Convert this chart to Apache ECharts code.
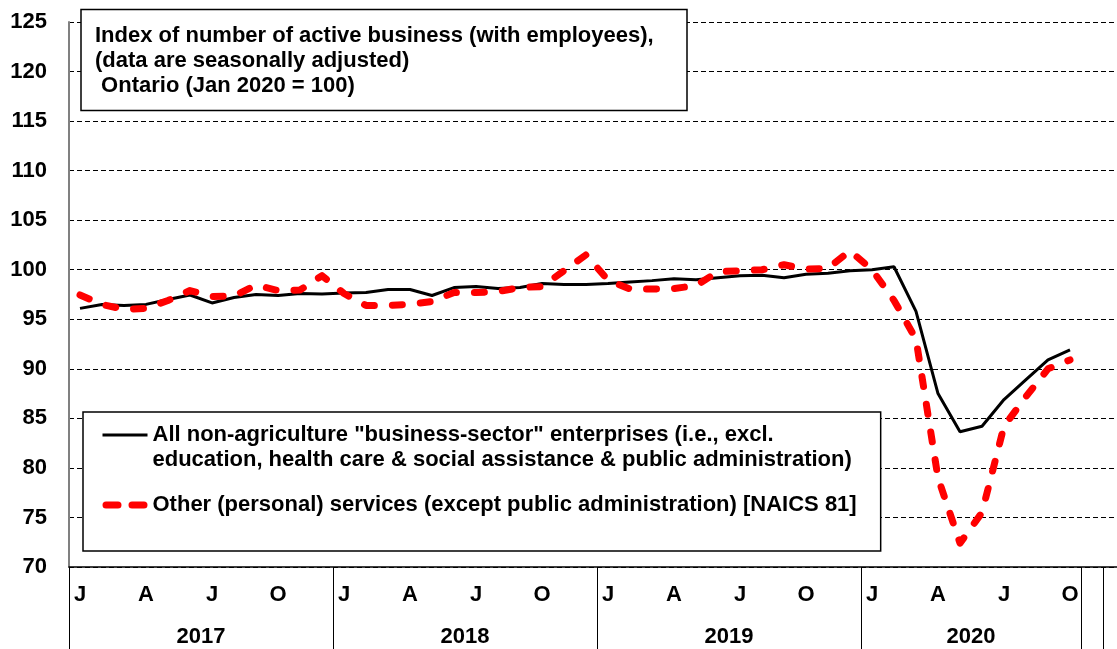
<!DOCTYPE html>
<html>
<head>
<meta charset="utf-8">
<script src="https://cdn.jsdelivr.net/npm/echarts@6/dist/echarts.min.js"></script>
<style>
  html, body { margin: 0; padding: 0; background: #fff; }
  #chart { width: 1117px; height: 649px; }
</style>
</head>
<body>
<div id="chart"></div>
<script>
var FONT = '"Liberation Sans", Arial, sans-serif';

var years = ['2017', '2018', '2019', '2020'];
var monthsPerYear = [12, 12, 12, 10];   // 2020 stops at October
var blankSlots = 2;                      // empty rows after the data, as in the sheet
var monthInitials = ['J', 'F', 'M', 'A', 'M', 'J', 'J', 'A', 'S', 'O', 'N', 'D'];

var allBusiness = [
    96.1, 96.5, 96.4, 96.5, 97.0, 97.45, 96.65, 97.2, 97.5, 97.4, 97.6, 97.55,
    97.65, 97.7, 98.0, 98.0, 97.4, 98.2, 98.3, 98.1, 98.2, 98.6, 98.5, 98.5,
    98.6, 98.75, 98.9, 99.1, 99.0, 99.2, 99.4, 99.45, 99.2, 99.55, 99.65, 99.9,
    100.0, 100.3, 95.8, 87.5, 83.65, 84.2, 86.9, 88.9, 90.9, 91.9
];
var otherServices = [
    97.45, 96.5, 96.0, 96.1, 96.9, 97.9, 97.3, 97.35, 98.45, 97.9, 97.95, 99.4,
    97.6, 96.4, 96.4, 96.5, 96.8, 97.7, 97.7, 97.8, 98.2, 98.3, 99.9, 101.5,
    98.95, 98.05, 98.05, 98.1, 98.4, 99.8, 99.9, 100.0, 100.5, 100.05, 100.15, 101.9,
    100.0, 96.9, 93.0, 79.0, 72.4, 75.5, 84.2, 87.2, 90.0, 90.9
];

var seriesNames = [
    'All non-agriculture "business-sector" enterprises (i.e., excl.\neducation, health care & social assistance & public administration)',
    'Other (personal) services (except public administration) [NAICS 81]'
];
var titleText = 'Index of number of active business (with employees),\n(data are seasonally adjusted)\n Ontario (Jan 2020 = 100)';

// month categories + where each year group starts
var categories = [];
var groupStarts = [];
var yearMarks = [];
years.forEach(function (y, k) {
    groupStarts.push(categories.length);
    yearMarks.push({ pos: categories.length * 2 + monthsPerYear[k], label: y });
    for (var m = 0; m < monthsPerYear[k]; m++) {
        categories.push(y + '-' + (m + 1));
    }
});
for (var b = 0; b < blankSlots; b++) {
    groupStarts.push(categories.length);
    categories.push('');
}
// half-step points along the axis, used only to centre the year labels
var yearAxisData = [];
for (var p = 0; p <= categories.length * 2; p++) yearAxisData.push('');
yearMarks.forEach(function (d) { yearAxisData[d.pos] = d.label; });

function monthIndex(v) {
    return v ? parseInt(v.split('-')[1], 10) - 1 : -1;
}

var labelFont = { fontSize: 22, fontWeight: 'bold', color: '#000', fontFamily: FONT };
var blackLine = { color: '#000', width: 3 };
var redLine = { color: '#ff0000', width: 7, type: [10, 18], cap: 'round', join: 'round' };

var chart = echarts.init(document.getElementById('chart'), null, { renderer: 'canvas' });
chart.setOption({
    animation: false,
    title: {
        text: titleText,
        left: 81,
        top: 9,
        padding: [14.5, 14, 12.5, 14],
        backgroundColor: '#fff',
        borderColor: '#000',
        borderWidth: 1.5,
        textStyle: Object.assign({ lineHeight: 25, width: 578 }, labelFont)
    },
    legend: {
        orient: 'vertical',
        left: 83,
        top: 412,
        padding: [-14.5, 24, 33.5, 16],
        itemWidth: 45,
        itemHeight: 14,
        itemGap: 20,
        backgroundColor: '#fff',
        borderColor: '#000',
        borderWidth: 1.5,
        selectedMode: false,
        itemStyle: { opacity: 0 },
        formatter: function (name) {
            // blank first line keeps the key line level with the first text line
            return name.indexOf('\n') >= 0 ? '\n' + name : name;
        },
        textStyle: Object.assign({ lineHeight: 25 }, labelFont),
        data: [
            { name: seriesNames[0], lineStyle: { color: '#000', width: 3, type: 'solid' } },
            { name: seriesNames[1], lineStyle: { color: '#ff0000', width: 7, type: [12, 14], dashOffset: -3.5, cap: 'round' } }
        ]
    },
    grid: {
        left: 69,
        top: 22,
        width: 1056,
        height: 545,
        outerBoundsMode: 'none',
        containLabel: false
    },
    xAxis: [{
        type: 'category',
        data: categories,
        boundaryGap: true,
        axisLine: { lineStyle: { color: '#000', width: 1.5 } },
        axisTick: {
            show: true,
            length: 82,
            interval: function (i) { return groupStarts.indexOf(i) >= 0; },
            lineStyle: { color: '#000', width: 1 }
        },
        axisLabel: Object.assign({
            interval: function (i, v) { return monthIndex(v) >= 0 && monthIndex(v) % 3 === 0; },
            formatter: function (v) { return monthInitials[monthIndex(v)] || ''; },
            margin: 16,
            lineHeight: 24
        }, labelFont),
        splitLine: { show: false }
    }, {
        type: 'category',
        data: yearAxisData,
        boundaryGap: false,
        position: 'bottom',
        axisLine: { show: false },
        axisTick: { show: false },
        splitLine: { show: false },
        axisLabel: Object.assign({ interval: 0, margin: 58, lineHeight: 24 }, labelFont)
    }],
    yAxis: {
        type: 'value',
        min: 70,
        max: 125,
        interval: 5,
        axisLine: { show: true, lineStyle: { color: '#808080', width: 2 } },
        axisTick: { show: false },
        axisLabel: Object.assign({ margin: 22 }, labelFont),
        splitLine: { lineStyle: { color: '#000', type: [5, 3], width: 1 } }
    },
    series: [{
        name: seriesNames[0],
        type: 'line',
        data: allBusiness,
        symbol: 'none',
        itemStyle: { color: '#000' },
        lineStyle: blackLine,
        z: 2
    }, {
        name: seriesNames[1],
        type: 'line',
        data: otherServices,
        symbol: 'none',
        itemStyle: { color: '#ff0000' },
        lineStyle: redLine,
        z: 3
    }]
});
</script>
</body>
</html>
